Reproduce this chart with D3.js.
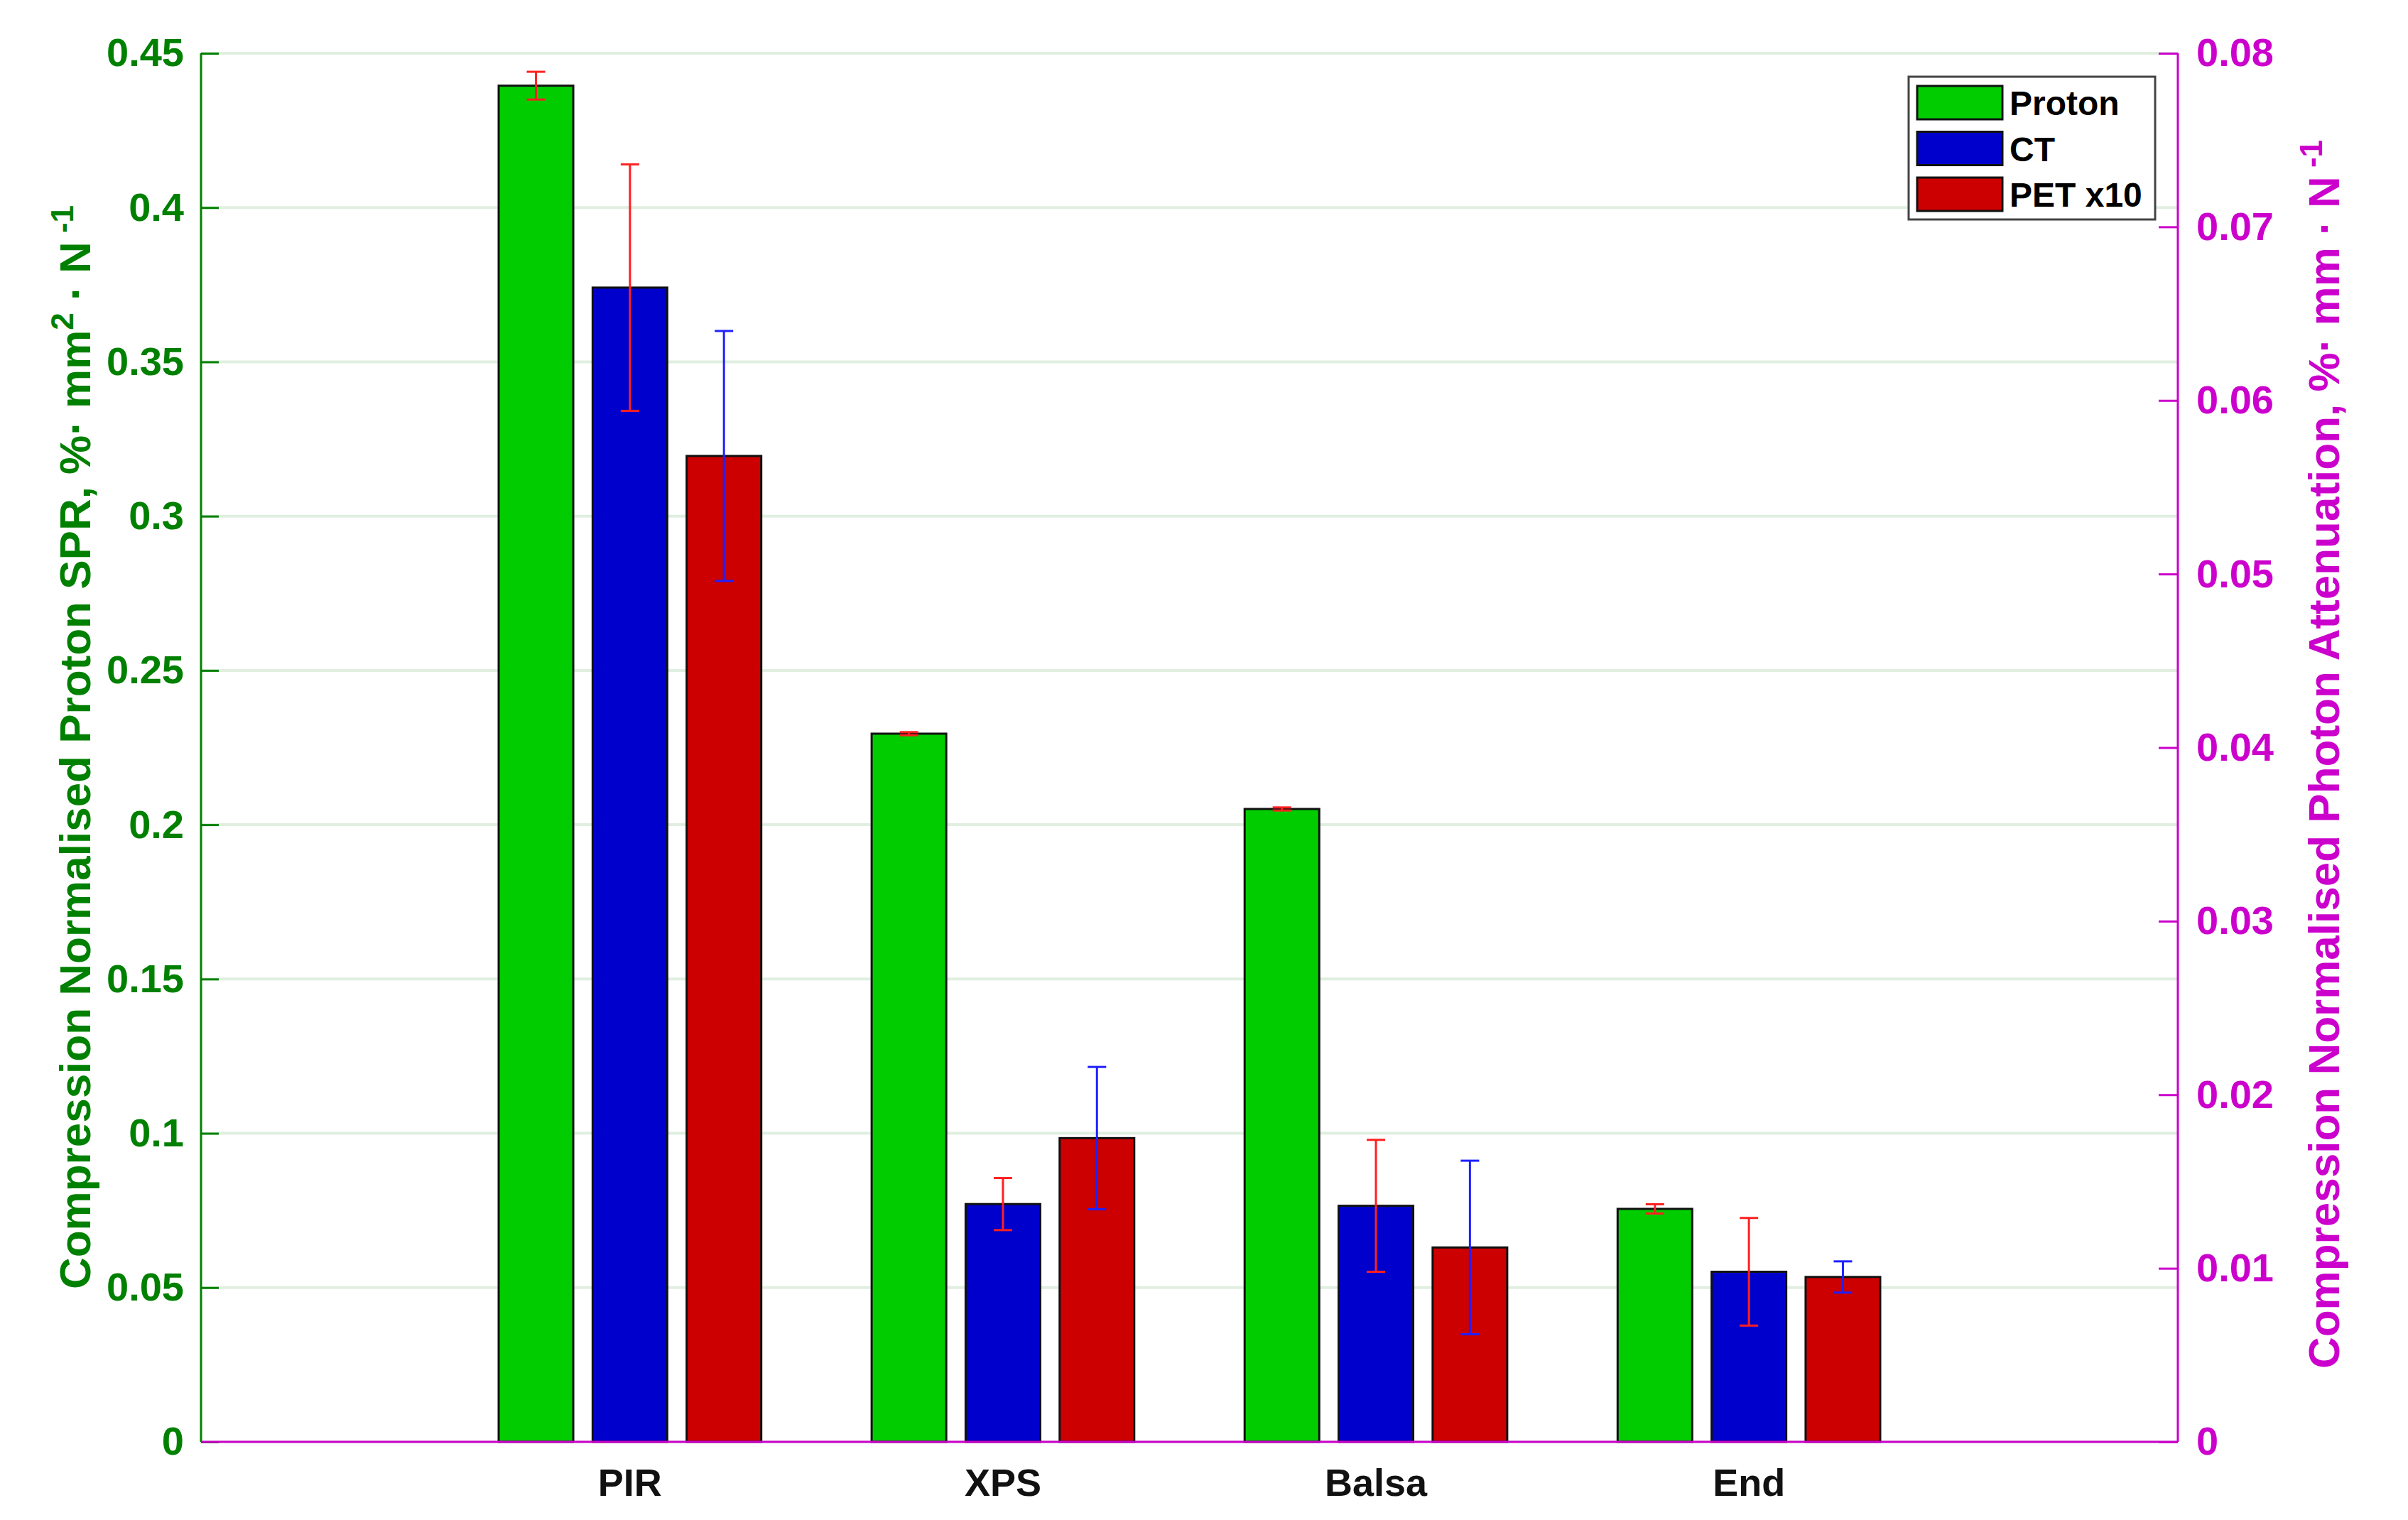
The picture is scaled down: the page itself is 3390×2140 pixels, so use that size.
<!DOCTYPE html>
<html>
<head>
<meta charset="utf-8">
<script src="https://cdn.jsdelivr.net/npm/d3@7"></script>
<style>
  body { margin: 0; background: #fff; }
  svg { font-family: "Liberation Sans", Arial, sans-serif; font-weight: bold; }
</style>
</head>
<body>
<svg width="3390" height="2140"></svg>
<script>
// data
var categories = ["PIR", "XPS", "Balsa", "End"];
var seriesNames = ["Proton", "CT", "PET x10"];
// proton on left axis, CT and PET on right axis
var protonVals = [0.4395, 0.2295, 0.2051, 0.0755];
var protonErr = [0.0045, 0.0005, 0.0005, 0.0015];
var ctVals = [0.0665, 0.0137, 0.0136, 0.0098];
var ctErr = [0.0071, 0.0015, 0.0038, 0.0031];
var petVals = [0.0568, 0.0175, 0.0112, 0.0095];
var petErr = [0.0072, 0.0041, 0.0050, 0.0009];
var leftTicks = [0, 0.05, 0.1, 0.15, 0.2, 0.25, 0.3, 0.35, 0.4, 0.45];
var rightTicks = [0, 0.01, 0.02, 0.03, 0.04, 0.05, 0.06, 0.07, 0.08];

var fillColors = ["#00cc00", "#0000cc", "#cc0000"];
var errColors = ["#ff2020", "#ff2020", "#2020ff"];
var green = "#008000", magenta = "#cc00cc";

var svg = d3.select("svg");
var plotLeft = 283, plotRight = 3066, plotTop = 75, plotBottom = 2030;

var x = d3.scaleLinear().domain([-1.15, categories.length + 0.15]).range([plotLeft, plotRight]);
var yL = d3.scaleLinear().domain([0, 0.45]).range([plotBottom, plotTop]);
var yR = d3.scaleLinear().domain([0, 0.08]).range([plotBottom, plotTop]);

// gridlines
svg.append("g").selectAll("line").data(leftTicks).enter().append("line")
  .attr("x1", plotLeft).attr("x2", plotRight)
  .attr("y1", d => yL(d)).attr("y2", d => yL(d))
  .attr("stroke", "#e0efe0").attr("stroke-width", 4);

// build bar rows
var rows = [];
categories.forEach(function (c, i) {
  rows.push({ cat: i, s: 0, v: protonVals[i], e: protonErr[i], y: yL });
  rows.push({ cat: i, s: 1, v: ctVals[i], e: ctErr[i], y: yR });
  rows.push({ cat: i, s: 2, v: petVals[i], e: petErr[i], y: yR });
});
var offset = 0.252, barW = 0.2;
function cx(d) { return x(d.cat + (d.s - 1) * offset); }
var bw = x(barW) - x(0);

svg.append("g").selectAll("rect").data(rows).enter().append("rect")
  .attr("x", d => cx(d) - bw / 2)
  .attr("width", bw)
  .attr("y", d => d.y(d.v))
  .attr("height", d => plotBottom - d.y(d.v))
  .attr("fill", d => fillColors[d.s])
  .attr("stroke", "#111").attr("stroke-width", 3);

// error bars
var eb = svg.append("g").selectAll("g").data(rows).enter().append("g")
  .attr("stroke", d => errColors[d.s]).attr("stroke-width", 3);
eb.append("line")
  .attr("x1", cx).attr("x2", cx)
  .attr("y1", d => d.y(d.v + d.e)).attr("y2", d => d.y(d.v - d.e));
eb.append("line")
  .attr("x1", d => cx(d) - 13).attr("x2", d => cx(d) + 13)
  .attr("y1", d => d.y(d.v + d.e)).attr("y2", d => d.y(d.v + d.e));
eb.append("line")
  .attr("x1", d => cx(d) - 13).attr("x2", d => cx(d) + 13)
  .attr("y1", d => d.y(d.v - d.e)).attr("y2", d => d.y(d.v - d.e));

// left axis
var gL = svg.append("g").attr("transform", "translate(" + plotLeft + ",0)")
  .call(d3.axisLeft(yL).tickValues(leftTicks).tickFormat(d => d).tickSize(-25).tickPadding(24));
gL.select(".domain").attr("stroke", green).attr("stroke-width", 3).attr("d", "M0," + plotTop + "V" + plotBottom);
gL.selectAll(".tick line").attr("stroke", green).attr("stroke-width", 3);
gL.selectAll(".tick text").attr("fill", green).style("font-size", "56px").style("font-weight", "bold")
  .style("font-family", "'Liberation Sans', Arial, sans-serif");

// right axis
var gR = svg.append("g").attr("transform", "translate(" + plotRight + ",0)")
  .call(d3.axisRight(yR).tickValues(rightTicks).tickFormat(d => d).tickSize(-27).tickPadding(26));
gR.select(".domain").attr("stroke", magenta).attr("stroke-width", 3).attr("d", "M0," + plotTop + "V" + plotBottom);
gR.selectAll(".tick line").attr("stroke", magenta).attr("stroke-width", 3);
gR.selectAll(".tick text").attr("fill", magenta).style("font-size", "56px").style("font-weight", "bold")
  .style("font-family", "'Liberation Sans', Arial, sans-serif");

// bottom axis
svg.append("line").attr("x1", plotLeft).attr("x2", plotRight).attr("y1", plotBottom).attr("y2", plotBottom)
  .attr("stroke", magenta).attr("stroke-width", 3);
svg.append("g").selectAll("text").data(categories).enter().append("text")
  .attr("x", (d, i) => x(i)).attr("y", 2106)
  .attr("text-anchor", "middle").attr("font-size", 54).attr("fill", "#111")
  .text(d => d);

// axis titles
function axisTitle(xp, yp, color, parts) {
  var t = svg.append("text").attr("transform", "translate(" + xp + "," + yp + ") rotate(-90)")
    .attr("text-anchor", "middle").attr("font-size", 62).attr("fill", color);
  parts.forEach(function (p) {
    var ts = t.append("tspan").text(p.t);
    if (p.sup) ts.attr("baseline-shift", "super").attr("font-size", 44);
  });
}
axisTitle(127, 1052, green, [
  { t: "Compression Normalised Proton SPR, %\u00b7 mm" }, { t: "2", sup: true },
  { t: " \u00b7 N" }, { t: " -1", sup: true }]);
axisTitle(3293, 1062, magenta, [
  { t: "Compression Normalised Photon Attenuation, %\u00b7 mm \u00b7 N" }, { t: " -1", sup: true }]);

// legend
var lg = svg.append("g");
lg.append("rect").attr("x", 2687).attr("y", 108).attr("width", 347).attr("height", 201)
  .attr("fill", "#fff").attr("stroke", "#444").attr("stroke-width", 3);
var li = lg.selectAll("g").data(seriesNames).enter().append("g")
  .attr("transform", (d, i) => "translate(0," + (121 + i * 64.5) + ")");
li.append("rect").attr("x", 2699).attr("y", 0).attr("width", 120).attr("height", 47)
  .attr("fill", (d, i) => fillColors[i]).attr("stroke", "#111").attr("stroke-width", 3);
li.append("text").attr("x", 2829).attr("y", 41).attr("font-size", 48).attr("fill", "#000").text(d => d);
</script>
</body>
</html>
